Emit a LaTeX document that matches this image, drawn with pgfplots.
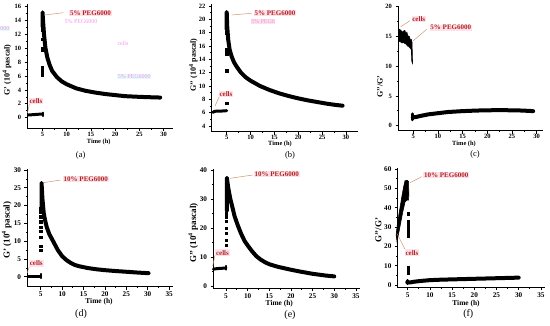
\documentclass[border=0pt]{standalone}
\usepackage{pgfplots}
\pgfplotsset{compat=1.18}
\usepackage{fontspec}
\setmainfont{Liberation Serif}
\definecolor{annred}{RGB}{180,35,35}
\definecolor{annbg}{RGB}{252,226,234}
\definecolor{annline}{RGB}{205,150,115}
\definecolor{ghost}{RGB}{245,150,228}
\definecolor{ghostbg}{RGB}{228,250,252}
\pgfplotsset{
  panel/.style={
    scale only axis, clip=false,
    axis x line*=bottom, axis y line*=left,
    axis line style={-, line width=0.9pt},
    every tick/.style={black, line width=0.7pt},
    tick align=outside, major tick length=2.8pt, minor tick length=1.5pt,
    minor x tick num=1, minor y tick num=1,
    /pgf/number format/assume math mode=true,
  },
  top/.style={panel, tick label style={font=\bfseries\fontsize{6.5}{7}\selectfont}, xticklabel style={yshift=2.5pt}},
  bot/.style={panel, tick label style={font=\bfseries\fontsize{7.2}{8}\selectfont}, xticklabel style={yshift=1pt}},
  curve/.style={black, line width=4pt, line join=round, line cap=round},
  band/.style={black, line width=3pt, line join=round, line cap=round},
  pts/.style={only marks, mark=square*, mark size=1.1pt, black},
}
\tikzset{
  ann/.style={text=annred, fill=annbg, inner sep=0.8pt, font=\bfseries\fontsize{7}{8}\selectfont},
  aline/.style={annline, line width=0.5pt},
  gh/.style={text=ghost, inner sep=0.5pt, font=\fontsize{6}{7}\selectfont},
  ylab/.style={rotate=90, font=\bfseries\fontsize{8}{9}\selectfont},
  ylabB/.style={rotate=90, font=\bfseries\fontsize{9}{10}\selectfont},
  xlab/.style={font=\bfseries\fontsize{6.4}{7}\selectfont},
  xlabB/.style={font=\bfseries\fontsize{7.4}{8}\selectfont},
}
\begin{document}
\begin{tikzpicture}[x=1pt,y=1pt]
\useasboundingbox (0,0) rectangle (550,325);
% ghost labels
\node[gh, fill=ghostbg] at (5,296.7) {000};
\node[gh] at (81,303.3) {5\% PEG6000};
\node[gh] at (123,281.7) {cells};
\node[gh, fill=ghostbg] at (134.3,248.3) {5\% PEG6000};
\node[gh, fill=annbg] at (263,303.3) {5\% PEG6};
% (a)
\begin{axis}[top, at={(27.5pt,196.7pt)}, anchor=south west, width=145.8pt, height=124.4pt,
  xmin=1.9, xmax=32, ymin=-1.5, ymax=16.3, xtick={5,10,...,30}, ytick={0,2,...,16}]
\addplot[band] coordinates {(2.1,0.4)(3,0.45)(4,0.5)(5,0.55)};
\addplot[band, line width=2pt] coordinates {(5,0.25)(5,0.75)};
\addplot[pts] coordinates {(5,6.1)(5,6.6)(5,7.0)(5,7.3)(5,9.7)(5,10.0)(5,11.2)(5,12.5)(5,12.9)};
\addplot[curve] coordinates {(5,13.1)(5,15.1)(5.1,14)(5.3,12)(5.6,10)(6,8.6)(6.5,7.5)(7,6.7)(8,5.8)(9,5.2)(10,4.8)(12,4.2)(14,3.85)(16,3.6)(18,3.4)(20,3.25)(22,3.1)(25,3.0)(27,2.95)(29.3,2.9)};
\end{axis}
% (b)
\begin{axis}[top, at={(211.7pt,193.3pt)}, anchor=south west, width=146.6pt, height=127.7pt,
  xmin=1.85, xmax=32.6, ymin=3.15, ymax=22.3, xtick={5,10,...,30}, ytick={4,6,...,22}]
\addplot[band] coordinates {(2.1,6.05)(2.5,6.2)(3,6.25)(4,6.25)(5,6.3)};
\addplot[pts] coordinates {(5,7.4)(5,12.3)(5,14.8)(5,15.2)(5,15.5)(5,18.0)};
\addplot[curve] coordinates {(5,18.5)(5,21.1)(5.1,19)(5.3,17)(5.6,15.5)(6,14.5)(6.5,13.6)(7,13)(8,12)(9,11.3)(10,10.8)(12,10)(14,9.4)(16,8.9)(18,8.5)(20,8.15)(22,7.85)(24,7.6)(26,7.35)(28,7.15)(29.3,7.05)};
\end{axis}
% (c)
\begin{axis}[top, at={(398.3pt,194.3pt)}, anchor=south west, width=144.2pt, height=125.2pt,
  xmin=1.96, xmax=31.2, ymin=-0.84, ymax=20.2, xtick={5,10,...,30}, ytick={0,5,...,20}]
\addplot[fill=black, draw=black, line width=0.6pt] coordinates {(2.0,15.4)(2.2,16.2)(2.5,16.0)(2.8,15.7)(3.0,15.9)(3.3,16.0)(3.5,15.5)(3.7,15.7)(3.9,15.1)(4.2,15.0)(4.4,14.4)(4.6,14.5)(4.75,14.0)(4.8,12.0)(4.85,10.5)(4.7,10.8)(4.6,12.8)(4.4,13.0)(4.1,13.3)(3.8,13.4)(3.6,13.7)(3.3,13.8)(3.0,14.0)(2.7,13.9)(2.4,14.1)(2.1,14.2)(2.0,15.4)};
\addplot[curve, line width=3pt] coordinates {(4.9,1.0)(4.9,2.0)};
\addplot[curve] coordinates {(4.9,1.4)(5.5,1.45)(6.5,1.65)(8,1.9)(10,2.1)(12,2.3)(15,2.45)(18,2.55)(21,2.6)(24,2.6)(27,2.55)(29.3,2.45)};
\end{axis}
% (d)
\begin{axis}[bot, at={(27.3pt,38.3pt)}, anchor=south west, width=146.1pt, height=117.7pt,
  xmin=1.87, xmax=36, ymin=-2.8, ymax=30.3, xtick={5,10,...,35}, ytick={0,5,...,30}]
\addplot[band] coordinates {(2.0,0.2)(3,0.2)(4,0.2)(5,0.2)};
\addplot[band, line width=2pt] coordinates {(5,-0.4)(5,0.8)};
\addplot[pts] coordinates {(5,7.5)(5,8.6)(5,11.2)(5,12.7)(5,14)(5,15.5)(5,16.9)(5,18.3)(5,19.2)};
\addplot[curve] coordinates {(5.2,19.5)(5.2,26.4)(5.4,22)(5.7,18)(6,16)(6.4,14)(7,12)(7.9,10)(9,7.5)(10,5.8)(11,4.7)(12,3.9)(13,3.3)(14,2.95)(16,2.45)(18,2.1)(20,1.85)(22,1.65)(25,1.4)(28,1.15)(30.2,1.0)};
\end{axis}
% (e)
\begin{axis}[bot, at={(213.3pt,36.7pt)}, anchor=south west, width=146.5pt, height=119.5pt,
  xmin=2.07, xmax=35.9, ymin=-0.8, ymax=40.4, xtick={5,10,...,35}, ytick={0,10,...,40}]
\addplot[band] coordinates {(2.1,5.8)(3,6.0)(4,6.1)(5,6.2)};
\addplot[band, line width=2pt] coordinates {(5,5.6)(5,6.9)};
\addplot[pts] coordinates {(5,14.1)(5,15.9)(5,18.2)(5,19.9)(5,22.2)(5,23.9)(5,25.1)};
\addplot[curve] coordinates {(5.2,26)(5.2,37.3)(5.5,34)(6,30)(6.5,27)(7,24)(7.7,21)(8.5,18)(9.3,15.5)(10,14)(11,12)(12,10.3)(13,9.1)(14,8.2)(15,7.5)(17,6.6)(20,5.6)(22,5)(25,4.2)(28,3.6)(30,3.3)};
\end{axis}
% (f)
\begin{axis}[bot, at={(397.7pt,37.5pt)}, anchor=south west, width=147.6pt, height=119.3pt,
  xmin=2.75, xmax=36, ymin=-1.2, ymax=60.5, xtick={5,10,...,35}, ytick={0,10,...,60}]
\addplot[fill=black, draw=black, line width=0.6pt] coordinates {(2.4,26)(2.7,32)(3.2,39)(3.7,46)(4.1,51)(4.4,54)(4.9,54.2)(5.2,53.5)(5.25,47)(5.2,44)(4.8,44)(4.4,43)(3.9,38)(3.4,32)(2.9,26)(2.6,22.5)(2.4,26)};
\addplot[pts] coordinates {(5.1,37)(5.1,33)(5.1,32)(5.1,30.5)(5.1,29.5)(5.1,28.5)(5.1,27.5)(5.1,26.5)(5.1,25.5)(5.1,9)(5.1,8)(5.1,6.5)};
\addplot[curve, line width=3pt] coordinates {(4.9,0.8)(4.9,2.5)};
\addplot[curve] coordinates {(4.9,1.5)(5.5,1.4)(6.5,1.8)(8,2.2)(10,2.6)(12,2.8)(15,3.0)(20,3.3)(25,3.6)(30,3.9)};
\end{axis}
% axis titles and panel letters
\node[ylab] at (7,255) {G\textquoteright{} (10\textsuperscript{4} pascal)};
\node[ylab] at (193.3,260) {G\textquoteright\textquoteright{} (10\textsuperscript{4} pascal)};
\node[ylab] at (380,238.3) {G\textquoteright\textquoteright/G\textquoteright};
\node[ylabB] at (6.7,95) {G\textquoteright{} (10\textsuperscript{4} pascal)};
\node[ylabB] at (193.3,92) {G\textquoteright\textquoteright{} (10\textsuperscript{4} pascal)};
\node[ylabB] at (378.3,95) {G\textquoteright\textquoteright/G\textquoteright};
\node[xlab] at (98.7,182.8) {Time (h)};
\node[xlab] at (280,181.3) {Time (h)};
\node[xlab] at (464,181.3) {Time (h)};
\node[xlabB] at (99,23) {Time (h)};
\node[xlabB] at (279.3,21.7) {Time (h)};
\node[xlabB] at (466,21.7) {Time (h)};
\node[font=\fontsize{8.5}{9}\selectfont] at (80.7,170) {(a)};
\node[font=\fontsize{8.5}{9}\selectfont] at (290,170) {(b)};
\node[font=\fontsize{8.5}{9}\selectfont] at (475,170.5) {(c)};
\node[font=\fontsize{10}{11}\selectfont] at (81,11) {(d)};
\node[font=\fontsize{10}{11}\selectfont] at (290,10) {(e)};
\node[font=\fontsize{10}{11}\selectfont] at (468.3,11) {(f)};
% annotations
\draw[aline] (63.3,312.3) -- (45,310);
\node[ann] at (90.5,311.7) {5\% PEG6000};
\draw[aline] (29.3,220.7) -- (27.5,212);
\node[ann] at (36,224) {cells};
\draw[aline] (251.7,311.7) -- (231.7,310);
\node[ann] at (275,311.7) {5\% PEG6000};
\draw[aline] (219.3,228.3) -- (215,219);
\node[ann] at (226,231) {cells};
\draw[aline] (410,304.3) -- (400.7,298.3);
\node[ann] at (418.8,306) {cells};
\draw[aline] (426.7,295.7) -- (413.3,284.3);
\node[ann] at (450.8,297.3) {5\% PEG6000};
\draw[aline] (60.7,145) -- (43.3,142.3);
\node[ann] at (85.8,146) {10\% PEG6000};
\draw[aline] (29.3,58.3) -- (27.3,52.3);
\node[ann] at (36.3,61.7) {cells};
\draw[aline] (252.7,150) -- (230,146.7);
\node[ann] at (276.7,151) {10\% PEG6000};
\draw[aline] (215,70) -- (212.7,59);
\node[ann] at (222.5,72.3) {cells};
\draw[aline] (421.7,148.3) -- (410,142.3);
\node[ann] at (446.2,150) {10\% PEG6000};
\draw[aline] (405,75.7) -- (397.3,91);
\node[ann] at (412,72.3) {cells};
\end{tikzpicture}
\end{document}
